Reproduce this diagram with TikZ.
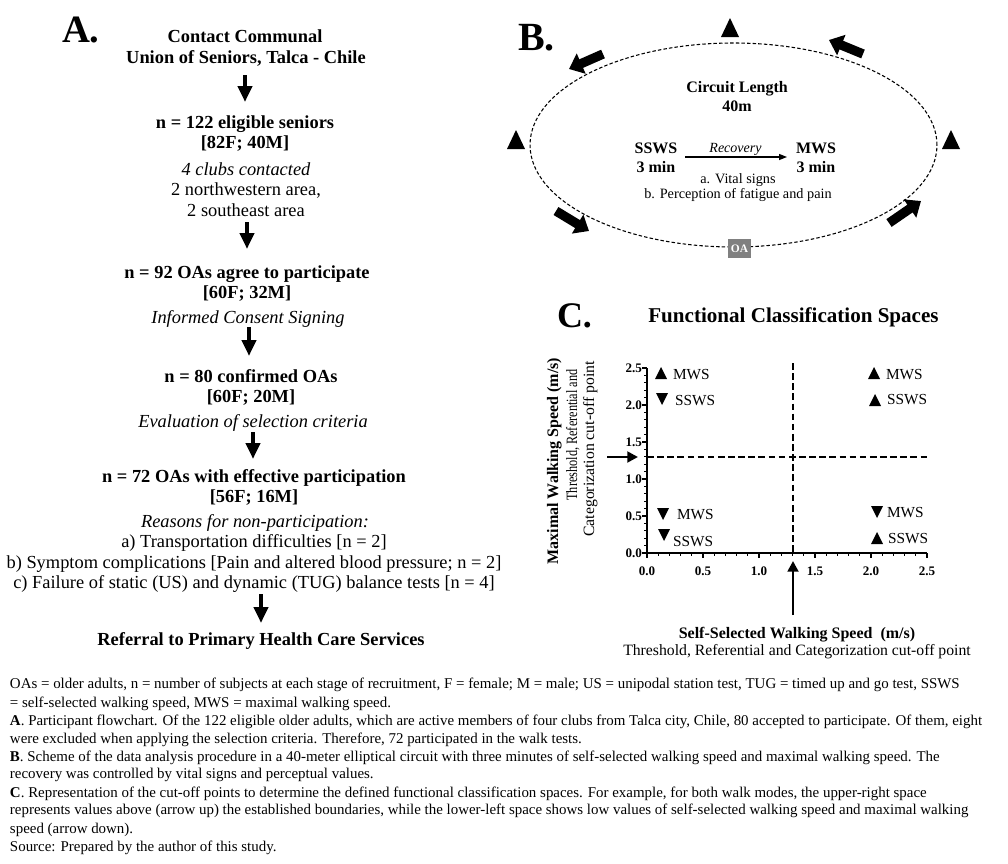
\documentclass[tikz,border=0pt]{standalone}
\usepackage{fontspec}
\setmainfont{Liberation Serif}
\usetikzlibrary{arrows.meta}
\begin{document}
\begin{tikzpicture}[x=0.75pt,y=-0.75pt,
  lbl/.style={inner sep=0pt, outer sep=0pt, anchor=base},
  fAb/.style={font=\fontsize{13.8}{16}\selectfont\bfseries},
  fAr/.style={font=\fontsize{13.8}{16}\selectfont},
  fAi/.style={font=\fontsize{13.8}{16}\selectfont\itshape},
  fBb/.style={font=\fontsize{12}{14}\selectfont\bfseries},
  fBr/.style={font=\fontsize{10.7}{13}\selectfont},
  fBi/.style={font=\fontsize{10.5}{12}\selectfont\itshape},
  fCt/.style={font=\fontsize{15.8}{18}\selectfont\bfseries},
  fCq/.style={font=\fontsize{11.5}{13}\selectfont},
  fCk/.style={font=\fontsize{9.8}{11}\selectfont\bfseries},
  fCab/.style={font=\fontsize{12}{14}\selectfont\bfseries},
  fCar/.style={font=\fontsize{11.8}{14}\selectfont},
  captxt/.style={inner sep=0pt, outer sep=0pt, anchor=base west, font=\fontsize{11.2}{13}\selectfont},
  letter/.style={inner sep=0pt, outer sep=0pt, anchor=base west},
  flowarrow/.style={line width=3pt, -{Triangle[width=10.5pt,length=12pt]}},
  blockarrow/.style={line width=7pt, -{Triangle[width=16pt,length=10pt]}},
  recarrow/.style={line width=1pt, -{Triangle[width=4.5pt,length=6pt]}},
  cutarrow/.style={line width=2pt, -{Triangle[width=8pt,length=8pt]}},
  circuit/.style={line width=0.8pt, dash pattern=on 2.6pt off 1.6pt},
  cutline/.style={line width=1.4pt, dash pattern=on 5pt off 2.6pt},
  axisline/.style={line width=1.5pt},
  oabox/.style={fill=black!50, text=white, inner sep=0pt, minimum width=17.5pt, minimum height=14.2pt, font=\fontsize{8.6}{10}\selectfont\bfseries},
  bigup/.pic={\fill (0,-10) -- (9,9) -- (-9,9) -- cycle;},
  smup/.pic={\fill (0,-6) -- (6,6) -- (-6,6) -- cycle;},
  smdown/.pic={\fill (0,6) -- (6,-6) -- (-6,-6) -- cycle;}
]
\useasboundingbox (0,0) rectangle (1008,864);
\fill[white] (0,0) rectangle (1008,864);

% ---------------- Panel A ----------------
\node[letter, font=\fontsize{29}{32}\selectfont\bfseries] (lA) at (62,42) {A.};
\node[lbl,fAb] (a1) at (245,42.7) {Contact Communal};
\node[lbl,fAb] (a2) at (246,63) {Union of Seniors, Talca - Chile};
\node[lbl,fAb] (b1) at (245,128) {n = 122 eligible seniors};
\node[lbl,fAb] (b2) at (245,148) {[82F; 40M]};
\node[lbl,fAi] (b3) at (246,175) {4 clubs contacted};
\node[lbl,fAr] (b4) at (246,195) {2 northwestern area,};
\node[lbl,fAr] (b5) at (246,216) {2 southeast area};
\node[lbl,fAb] (c1) at (247,278) {n = 92 OAs agree to participate};
\node[lbl,fAb] (c2) at (247,298) {[60F; 32M]};
\node[lbl,fAi] (c3) at (248,323) {Informed Consent Signing};
\node[lbl,fAb] (d1) at (251,382) {n = 80 confirmed OAs};
\node[lbl,fAb] (d2) at (251,402) {[60F; 20M]};
\node[lbl,fAi] (d3) at (253,427) {Evaluation of selection criteria};
\node[lbl,fAb] (e1) at (254,482) {n = 72 OAs with effective participation};
\node[lbl,fAb] (e2) at (254,502) {[56F; 16M]};
\node[lbl,fAi] (e3) at (255,527) {Reasons for non-participation:};
\node[lbl,fAr] (e4) at (254,547) {a) Transportation difficulties [n = 2]};
\node[lbl,fAr] (e5) at (254,568) {b) Symptom complications [Pain and altered blood pressure; n = 2]};
\node[lbl,fAr] (e6) at (254,588) {c) Failure of static (US) and dynamic (TUG) balance tests [n = 4]};
\node[lbl,fAb] (f1) at (261,645) {Referral to Primary Health Care Services};

\coordinate (p1s) at (245,75);  \coordinate (p1e) at (245,102);
\coordinate (p2s) at (247,222); \coordinate (p2e) at (247,249);
\coordinate (p3s) at (249,327); \coordinate (p3e) at (249,356);
\coordinate (p4s) at (253,432); \coordinate (p4e) at (253,459);
\coordinate (p5s) at (261,594); \coordinate (p5e) at (261,623);
\draw[flowarrow] (p1s) -- (p1e);
\draw[flowarrow] (p2s) -- (p2e);
\draw[flowarrow] (p3s) -- (p3e);
\draw[flowarrow] (p4s) -- (p4e);
\draw[flowarrow] (p5s) -- (p5e);

% ---------------- Panel B ----------------
\node[letter, font=\fontsize{30}{33}\selectfont\bfseries] (lB) at (518,50) {B.};
\draw[circuit] (733.5,145) ellipse [x radius=152.6pt, y radius=76.5pt];
\pic at (730,28) {bigup};
\pic at (516,140) {bigup};
\pic at (951,140) {bigup};
\draw[blockarrow] (603,54) -- (569,69);
\draw[blockarrow] (863,54) -- (829,40);
\draw[blockarrow] (556,211) -- (589,231);
\draw[blockarrow] (889,223) -- (921,201);
\node[oabox] (oa) at (739.5,248.5) {OA};

\node[lbl,fBb] (cl1) at (737,92) {Circuit Length};
\node[lbl,fBb] (cl2) at (737,111) {40m};
\node[lbl,fBb] (ss1) at (656,153) {SSWS};
\node[lbl,fBb] (ss2) at (656,172) {3 min};
\node[lbl,fBb] (mw1) at (816,153) {MWS};
\node[lbl,fBb] (mw2) at (816,172) {3 min};
\node[lbl,fBi] (rec) at (735.5,152.5) {Recovery};
\node[lbl,fBr] (va) at (738,183) {a. Vital signs};
\node[lbl,fBr] (vb) at (738,198) {b. Perception of fatigue and pain};
\coordinate (rs) at (685,157); \coordinate (re) at (787,157);
\draw[recarrow] (rs) -- (re);

% ---------------- Panel C ----------------
\node[letter, font=\fontsize{27}{30}\selectfont\bfseries] (lC) at (557,327) {C.};
\node[lbl,fCt] (ct) at (793.5,322) {Functional Classification Spaces};

% cut-off lines
\draw[cutline] (793,363) -- (793,553);
\draw[cutline] (647,457) -- (928,457);
% axes
\foreach \i in {0,...,25} {
  \draw[line width=1pt] ({647+11.2*\i},553) -- ({647+11.2*\i},556);
  \draw[line width=1pt] (647,{553-7.4*\i}) -- (644,{553-7.4*\i});
}
\foreach \i/\t in {0/0.0,1/0.5,2/1.0,3/1.5,4/2.0,5/2.5} {
  \draw[line width=1.2pt] ({647+56*\i},553) -- ({647+56*\i},558);
  \draw[line width=1.2pt] (647,{553-37*\i}) -- (642,{553-37*\i});
  \node[lbl,fCk] at ({647+56*\i},575) {\t};
  \node[lbl,fCk,anchor=base east] at (642,{553-37*\i+4}) {\t};
}
\draw[axisline] (647,368) -- (647,553) -- (927,553);

\coordinate (ya) at (607,457); \coordinate (yb) at (638,457);
\coordinate (xa) at (793,615); \coordinate (xb) at (793,561);
\draw[cutarrow] (ya) -- (yb);
\draw[cutarrow] (xa) -- (xb);

\pic at (661,373) {smup};   \node[lbl,fCq,anchor=base west] (q1) at (673,379.5) {MWS};
\pic at (662,399) {smdown}; \node[lbl,fCq,anchor=base west] (q2) at (675,405.5) {SSWS};
\pic at (874,373) {smup};   \node[lbl,fCq,anchor=base west] (q3) at (886,379.5) {MWS};
\pic at (875,400) {smup};   \node[lbl,fCq,anchor=base west] (q4) at (887,404.5) {SSWS};
\pic at (663,514) {smdown}; \node[lbl,fCq,anchor=base west] (q5) at (677,519.5) {MWS};
\pic at (664,535) {smdown}; \node[lbl,fCq,anchor=base west] (q6) at (673,546.5) {SSWS};
\pic at (877,512) {smdown}; \node[lbl,fCq,anchor=base west] (q7) at (887,517.5) {MWS};
\pic at (877,538) {smup};   \node[lbl,fCq,anchor=base west] (q8) at (888,543.5) {SSWS};

\node[lbl,fCab,rotate=90] (yl1) at (558,461) {Maximal Walking Speed (m/s)};
\node[lbl,fCar,rotate=90] (yl2) at (577,435) {\scalebox{0.78}[1]{Threshold, Referential and}};
\node[lbl,fCar,rotate=90] (yl3) at (594,449) {Categorization cut-off point};
\node[lbl,fCab] (xl1) at (797,638) {Self-Selected Walking Speed\ \ (m/s)};
\node[lbl,fCar] (xl2) at (797,655) {Threshold, Referential and Categorization cut-off point};

% ---------------- Caption ----------------
\node[captxt] (t1) at (10,688) {OAs = older adults, n = number of subjects at each stage of recruitment, F = female; M = male; US = unipodal station test, TUG = timed up and go test, SSWS};
\node[captxt] (t2) at (10,707) {= self-selected walking speed, MWS = maximal walking speed.};
\node[captxt] (t3) at (10,725) {\textbf{A}. Participant flowchart. Of the 122 eligible older adults, which are active members of four clubs from Talca city, Chile, 80 accepted to participate. Of them, eight};
\node[captxt] (t4) at (10,743) {were excluded when applying the selection criteria. Therefore, 72 participated in the walk tests.};
\node[captxt] (t5) at (10,761) {\textbf{B}. Scheme of the data analysis procedure in a 40-meter elliptical circuit with three minutes of self-selected walking speed and maximal walking speed. The};
\node[captxt] (t6) at (10,778) {recovery was controlled by vital signs and perceptual values.};
\node[captxt] (t7) at (10,797) {\textbf{C}. Representation of the cut-off points to determine the defined functional classification spaces. For example, for both walk modes, the upper-right space};
\node[captxt] (t8) at (10,814) {represents values above (arrow up) the established boundaries, while the lower-left space shows low values of self-selected walking speed and maximal walking};
\node[captxt] (t9) at (10,833) {speed (arrow down).};
\node[captxt] (t10) at (10,851) {Source: Prepared by the author of this study.};
\end{tikzpicture}
\end{document}
